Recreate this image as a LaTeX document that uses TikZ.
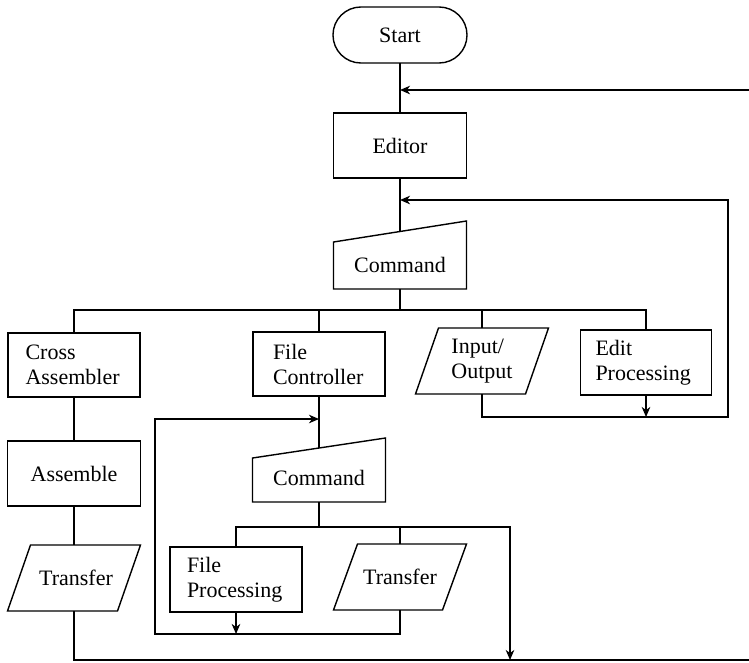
\documentclass[tikz,border=0pt]{standalone}
\usepackage{fontspec}
\setmainfont{Liberation Serif}
\usetikzlibrary{calc,arrows.meta}

% outline of a slanted input/output box drawn round a plain node
\newcommand{\ioshape}[2]{%
  \draw ($(#1.north west)+(#2,0)$) -- (#1.north east)
        -- ($(#1.south east)+(-#2,0)$) -- (#1.south west) -- cycle;}
% outline of a manual-input box (top edge falls towards the left)
\newcommand{\manshape}[2]{%
  \draw ($(#1.north west)+(0,#2)$) -- (#1.north east)
        -- (#1.south east) -- (#1.south west) -- cycle;}

\begin{document}
\begin{tikzpicture}[x=1pt,y=-1pt,line width=1.4pt,
  every node/.style={font=\fontsize{22}{25}\selectfont,inner sep=0pt,outer sep=0pt},
  procbox/.style={draw,rectangle,minimum width=132pt,minimum height=65pt},
  plainbox/.style={rectangle,minimum width=133pt,minimum height=66pt},
  term/.style={draw,rectangle,rounded corners=27.9pt,minimum width=134pt,minimum height=56pt},
  arr/.style={-{Stealth[length=10pt,width=8.5pt,inset=3pt]}}]
\useasboundingbox (0,0) rectangle (749,662);

% ---- main editor chain
\node[term] (start) at (400,35) {Start};
\node[procbox,minimum width=133pt] (editor) at (400,145.5) {Editor};
\node[plainbox,minimum height=68pt] (cmdA) at (400,255) {};
\manshape{cmdA}{21}
\node (cmdAtxt) at (400,264.5) {Command};
\path ($(cmdA.north west)+(0,21)$) -- (cmdA.north east) coordinate[pos=.5] (cmdAtop);

% ---- first row of branches
\node[procbox,minimum height=64pt,align=left,text width=97pt] (cross) at (74,365) {Cross\\Assembler};
\node[procbox,minimum height=64pt,align=left,text width=92pt] (filec) at (319,364) {File\\Controller};
\node[plainbox] (io) at (482,361) {};
\ioshape{io}{23}
\node[align=left] (iotxt) at (482,361) {Input/\\Output};
\node[procbox,minimum width=131pt,align=left,text width=101pt] (edit) at (646,362.5) {Edit\\Processing};

% ---- cross assembler column
\node[procbox,minimum width=133pt] (asm) at (74,473.5) {Assemble};
\node[plainbox] (trL) at (74,578) {};
\ioshape{trL}{23}
\node (trLtxt) at (76,578) {Transfer};

% ---- file controller sub-chain
\node[plainbox,minimum height=64pt] (cmdB) at (319,470) {};
\manshape{cmdB}{20}
\node (cmdBtxt) at (319,478) {Command};
\path ($(cmdB.north west)+(0,20)$) -- (cmdB.north east) coordinate[pos=.5] (cmdBtop);
\node[procbox,align=left,text width=98pt] (fproc) at (236,579.5) {File\\Processing};
\node[plainbox] (trR) at (400,577) {};
\ioshape{trR}{24}
\node (trRtxt) at (400,577) {Transfer};

% ---- junction points
\coordinate (fbA) at (749,90);
\coordinate (loopA) at (728,200);
\coordinate (loopAb) at (728,417);
\coordinate (busA) at (400,310);
\coordinate (busB) at (319,527);
\coordinate (busBr) at (510,527);
\coordinate (outB) at (749,660);
\coordinate (loopBt) at (155,419);
\coordinate (loopBb) at (155,634);

% ---- connectors
\draw (start) -- (editor);
\draw[arr] (fbA) -- (start.south |- fbA);
\draw (editor.south) -- (cmdAtop);
\draw (cmdA.south) -- (busA);
\draw (cross.north) |- (busA);
\draw (edit.north) |- (busA);
\draw (filec.north) -- (filec.north |- busA);
\draw (io.north) -- (io.north |- busA);
\draw[arr] (io.south) |- (loopAb) -- (loopA) -- (editor.south |- loopA);
\draw[arr] (edit.south) -- (edit.south |- loopAb);

\draw (cross) -- (asm);
\draw (asm) -- (trL);
\draw (trL.south) |- (outB);

\draw (filec.south) -- (cmdBtop);
\draw (cmdB.south) -- (busB);
\draw[arr] (fproc.north) |- (busBr) -- (busBr |- outB);
\draw (trR.north) -- (trR.north |- busB);
\draw[arr] (trR.south) |- (loopBb) -- (loopBt) -- (filec.south |- loopBt);
\draw[arr] (fproc.south) -- (fproc.south |- loopBb);
\end{tikzpicture}
\end{document}
